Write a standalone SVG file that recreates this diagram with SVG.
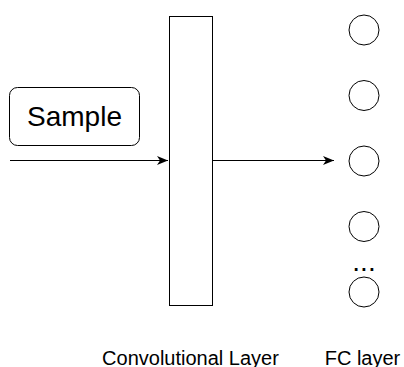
<svg xmlns="http://www.w3.org/2000/svg" width="404" height="367" viewBox="0 0 404 367">
<defs>
<style>
.s{fill:#fff;stroke:#000;stroke-width:1}
.c{fill:none;stroke:#000;stroke-width:1}
.t{font-family:"Liberation Sans",Arial,sans-serif;fill:#000}
</style>
<marker id="ah" markerWidth="12" markerHeight="10" viewBox="0 0 12 10" refX="11" refY="5" orient="auto" markerUnits="userSpaceOnUse">
<path d="M0,0.5 L11,5 L0,9.5 L3,5 Z" fill="#000"/>
</marker>
</defs>
<rect width="404" height="367" fill="#fff"/>
<g id="connectors">
<line class="c" x1="10" y1="160.5" x2="168" y2="160.5" marker-end="url(#ah)"/>
<line class="c" x1="213" y1="160.5" x2="334" y2="160.5" marker-end="url(#ah)"/>
</g>
<g id="sample">
<rect class="s" x="9.5" y="87.5" width="130" height="58" rx="8" ry="8"/>
<text class="t" x="74.5" y="125.5" font-size="28" text-anchor="middle">Sample</text>
</g>
<g id="conv">
<rect class="s" x="169.5" y="16.5" width="43" height="289"/>
</g>
<g id="fc1"><circle class="s" cx="364" cy="30" r="15"/></g>
<g id="fc2"><circle class="s" cx="364" cy="95.5" r="15"/></g>
<g id="fc3"><circle class="s" cx="364" cy="161" r="15"/></g>
<g id="fc4"><circle class="s" cx="364" cy="226.5" r="15"/></g>
<g id="fc5"><circle class="s" cx="364" cy="292" r="15"/></g>
<g id="dots"><text class="t" x="364" y="271" font-size="28" text-anchor="middle">...</text></g>
<g id="conv-label"><text class="t" x="190.5" y="365" font-size="20" text-anchor="middle">Convolutional Layer</text></g>
<g id="fc-label"><text class="t" x="362.5" y="365" font-size="20" text-anchor="middle">FC layer</text></g>
</svg>
